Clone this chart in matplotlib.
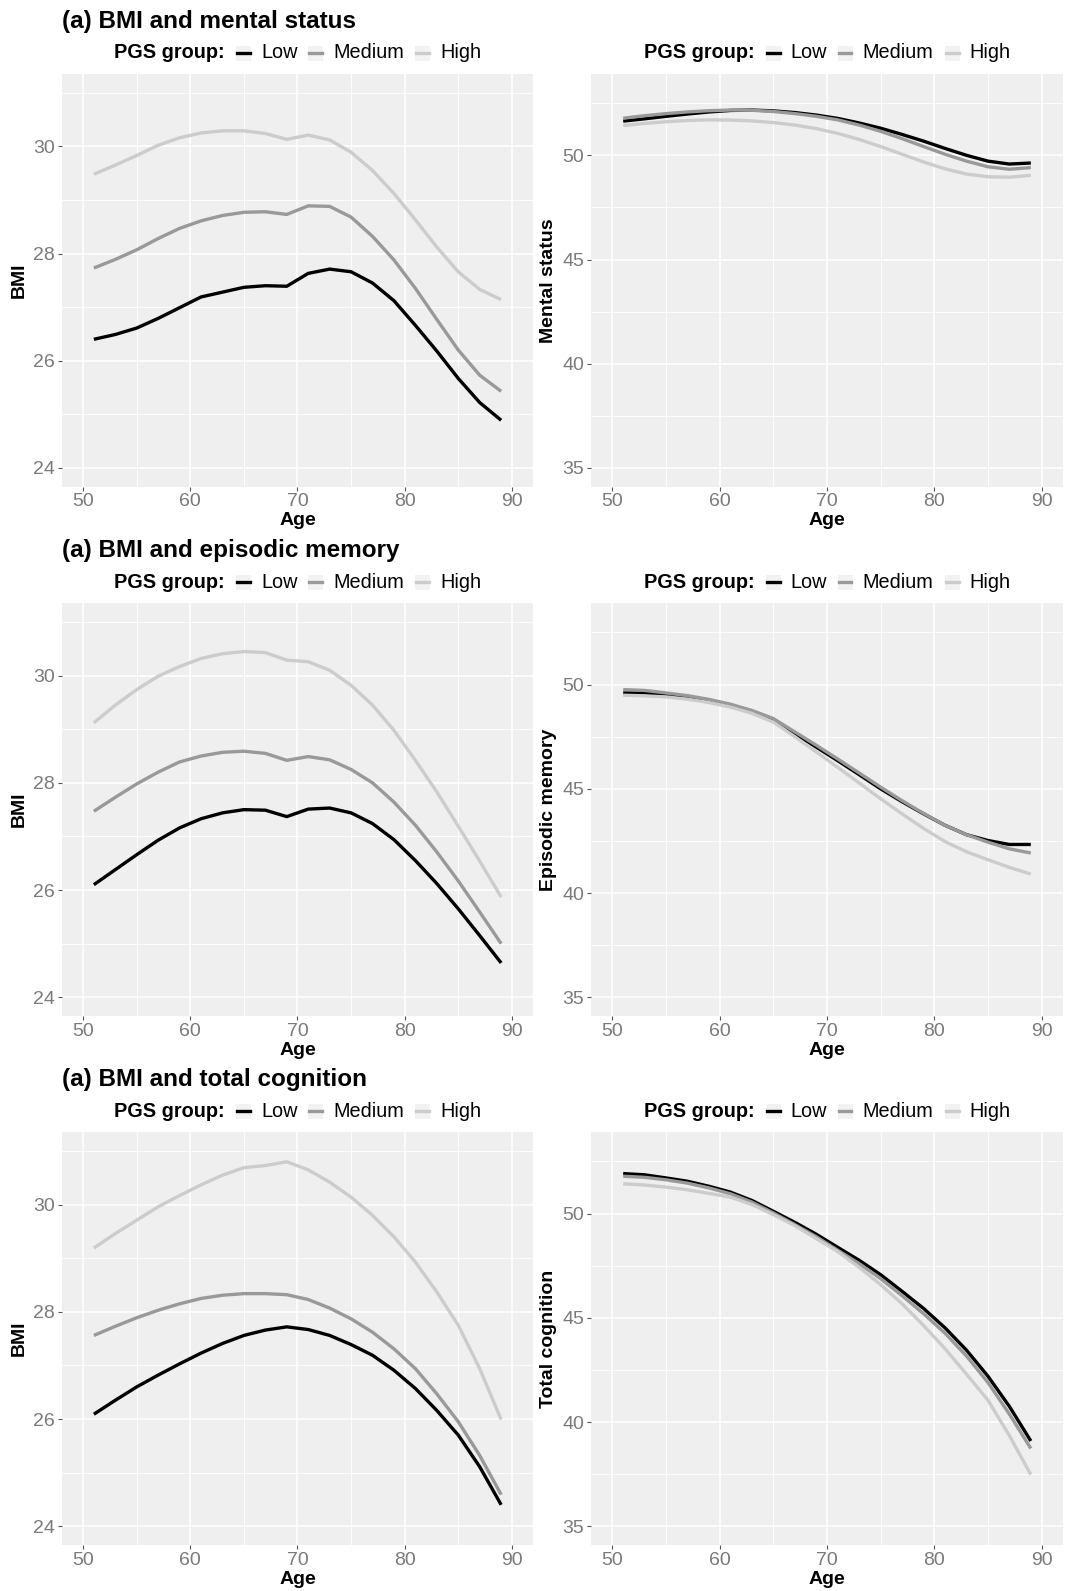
import matplotlib
matplotlib.use("Agg")
import matplotlib.pyplot as plt
from matplotlib.lines import Line2D
from matplotlib.patches import Rectangle

plt.rcParams['font.family'] = ['Liberation Sans', 'DejaVu Sans']

# ages at which the curves were evaluated
age = list(range(51, 90, 2))

groups = ['Low', 'Medium', 'High']
group_colors = ['#000000', '#999999', '#cccccc']

# row 1: BMI + mental status
bmi_ms_low = [26.40, 26.49, 26.61, 26.79, 26.99, 27.19, 27.28, 27.37, 27.40, 27.39,
              27.63, 27.71, 27.66, 27.45, 27.12, 26.66, 26.18, 25.67, 25.22, 24.89]
bmi_ms_med = [27.73, 27.89, 28.07, 28.28, 28.47, 28.61, 28.71, 28.77, 28.78, 28.73,
              28.89, 28.88, 28.68, 28.32, 27.88, 27.35, 26.77, 26.20, 25.73, 25.43]
bmi_ms_high = [29.48, 29.65, 29.83, 30.02, 30.16, 30.25, 30.29, 30.29, 30.24, 30.13,
               30.21, 30.12, 29.89, 29.55, 29.12, 28.63, 28.12, 27.66, 27.33, 27.14]
ms_low = [51.64, 51.75, 51.87, 51.98, 52.08, 52.15, 52.17, 52.13, 52.05, 51.93,
          51.77, 51.55, 51.30, 51.00, 50.68, 50.33, 50.00, 49.72, 49.58, 49.63]
ms_med = [51.78, 51.90, 52.00, 52.08, 52.14, 52.17, 52.16, 52.10, 52.00, 51.87,
          51.70, 51.45, 51.15, 50.80, 50.42, 50.05, 49.72, 49.45, 49.33, 49.41]
ms_high = [51.43, 51.53, 51.61, 51.67, 51.70, 51.69, 51.65, 51.57, 51.45, 51.28,
           51.05, 50.76, 50.42, 50.05, 49.68, 49.35, 49.10, 48.97, 48.95, 49.04]

# row 2: BMI + episodic memory
bmi_em_low = [26.10, 26.38, 26.66, 26.93, 27.16, 27.33, 27.44, 27.50, 27.49, 27.37,
              27.51, 27.53, 27.44, 27.24, 26.94, 26.55, 26.12, 25.65, 25.15, 24.64]
bmi_em_med = [27.47, 27.73, 27.98, 28.20, 28.39, 28.50, 28.57, 28.59, 28.55, 28.42,
              28.49, 28.43, 28.25, 28.00, 27.64, 27.21, 26.71, 26.17, 25.59, 25.00]
bmi_em_high = [29.12, 29.45, 29.74, 29.99, 30.17, 30.32, 30.41, 30.45, 30.43, 30.29,
               30.26, 30.10, 29.82, 29.45, 28.98, 28.42, 27.83, 27.19, 26.54, 25.87]
em_low = [49.60, 49.60, 49.52, 49.40, 49.23, 49.00, 48.70, 48.30, 47.65, 47.00,
          46.35, 45.68, 45.00, 44.38, 43.80, 43.25, 42.80, 42.52, 42.33, 42.33]
em_med = [49.76, 49.72, 49.60, 49.47, 49.29, 49.06, 48.76, 48.37, 47.73, 47.09,
          46.43, 45.76, 45.08, 44.43, 43.82, 43.25, 42.80, 42.44, 42.12, 41.92]
em_high = [49.49, 49.46, 49.41, 49.30, 49.14, 48.92, 48.62, 48.20, 47.50, 46.77,
           46.03, 45.28, 44.52, 43.80, 43.10, 42.47, 41.98, 41.60, 41.23, 40.91]

# row 3: BMI + total cognition
bmi_tc_low = [26.09, 26.35, 26.60, 26.82, 27.03, 27.23, 27.41, 27.56, 27.66, 27.72,
              27.67, 27.56, 27.39, 27.19, 26.91, 26.57, 26.16, 25.70, 25.11, 24.40]
bmi_tc_med = [27.56, 27.73, 27.89, 28.03, 28.15, 28.25, 28.31, 28.34, 28.34, 28.32,
              28.23, 28.07, 27.87, 27.62, 27.31, 26.94, 26.47, 25.95, 25.32, 24.59]
bmi_tc_high = [29.19, 29.46, 29.71, 29.96, 30.17, 30.37, 30.55, 30.69, 30.73, 30.80,
               30.65, 30.42, 30.14, 29.80, 29.40, 28.93, 28.37, 27.75, 26.94, 25.99]
tc_low = [51.92, 51.86, 51.71, 51.55, 51.31, 51.03, 50.63, 50.11, 49.58, 49.01,
          48.38, 47.76, 47.07, 46.27, 45.45, 44.52, 43.45, 42.20, 40.75, 39.09]
tc_med = [51.79, 51.74, 51.62, 51.46, 51.23, 50.95, 50.55, 50.03, 49.47, 48.89,
          48.24, 47.60, 46.88, 46.06, 45.20, 44.26, 43.17, 41.90, 40.38, 38.73]
tc_high = [51.43, 51.37, 51.27, 51.14, 50.97, 50.79, 50.43, 49.95, 49.42, 48.80,
           48.18, 47.42, 46.59, 45.67, 44.63, 43.52, 42.30, 41.05, 39.35, 37.48]

titles = ['(a) BMI and mental status', '(a) BMI and episodic memory',
          '(a) BMI and total cognition']
outcome_labels = ['Mental status', 'Episodic memory', 'Total cognition']
bmi_rows = [[bmi_ms_low, bmi_ms_med, bmi_ms_high],
            [bmi_em_low, bmi_em_med, bmi_em_high],
            [bmi_tc_low, bmi_tc_med, bmi_tc_high]]
out_rows = [[ms_low, ms_med, ms_high],
            [em_low, em_med, em_high],
            [tc_low, tc_med, tc_high]]

W, H = 1069, 1591
fig = plt.figure(figsize=(W / 100, H / 100), dpi=100)
fig.patch.set_facecolor('white')


def fx(px):
    return px / W


def fy(py):
    return 1 - py / H


def style_axis(ax, ylim, yticks, yminor):
    ax.set_facecolor('#efefef')
    for s in ax.spines.values():
        s.set_visible(False)
    ax.set_xlim(48, 92)
    ax.set_xticks([50, 60, 70, 80, 90])
    ax.set_xticks([55, 65, 75, 85], minor=True)
    ax.set_ylim(*ylim)
    ax.set_yticks(yticks)
    ax.set_yticks(yminor, minor=True)
    ax.grid(which='major', color='white', lw=1.1)
    ax.grid(which='minor', color='white', lw=0.6)
    ax.set_axisbelow(True)
    ax.tick_params(which='major', length=2.75, width=0.8, color='#555555',
                   labelsize=14, labelcolor='#7a7a7a', pad=2)
    ax.tick_params(which='minor', length=0)
    ax.set_xlabel('Age', fontsize=14, fontweight='bold', labelpad=1.5)


def draw_legend(x0, yc):
    fig.text(fx(x0), fy(yc), 'PGS group:', fontsize=14.3, fontweight='bold',
             va='center', ha='left')
    offsets = [122, 194, 301]
    for off, g, c in zip(offsets, groups, group_colors):
        kx = x0 + off
        fig.add_artist(Rectangle((fx(kx), fy(yc + 7.5)), 15 / W, 15 / H,
                                 transform=fig.transFigure, facecolor='#f2f2f2',
                                 edgecolor='none'))
        fig.add_artist(Line2D([fx(kx + 1), fx(kx + 14)], [fy(yc), fy(yc)],
                              transform=fig.transFigure, color=c, lw=2.4))
        fig.text(fx(kx + 25), fy(yc), g, fontsize=14.3, va='center', ha='left')


panel_tops = [74, 603.3, 1132.3]
panel_h = 412.7
left_x = (61.7, 533.3)
right_x = (591, 1063)

for r in range(3):
    top = panel_tops[r]
    bot = top + panel_h
    axl = fig.add_axes([fx(left_x[0]), fy(bot), fx(left_x[1] - left_x[0]), panel_h / H])
    style_axis(axl, (23.65, 31.35), [24, 26, 28, 30], [25, 27, 29, 31])
    for vals, c in zip(bmi_rows[r], group_colors):
        axl.plot(age, vals, color=c, lw=2.4, solid_capstyle='butt')
    axl.set_ylabel('BMI', fontsize=14, fontweight='bold', labelpad=4)

    axr = fig.add_axes([fx(right_x[0]), fy(bot), fx(right_x[1] - right_x[0]), panel_h / H])
    style_axis(axr, (34.1, 53.9), [35, 40, 45, 50], [37.5, 42.5, 47.5, 52.5])
    for vals, c in zip(out_rows[r], group_colors):
        axr.plot(age, vals, color=c, lw=2.4, solid_capstyle='butt')
    axr.set_ylabel(outcome_labels[r], fontsize=14, fontweight='bold', labelpad=4)

    fig.text(fx(62), fy(top - 52.5), titles[r], fontsize=17.5, fontweight='bold',
             va='center', ha='left')
    draw_legend(114, top - 21)
    draw_legend(643.5, top - 21)

fig.savefig('out.png', dpi=100, facecolor='white')
